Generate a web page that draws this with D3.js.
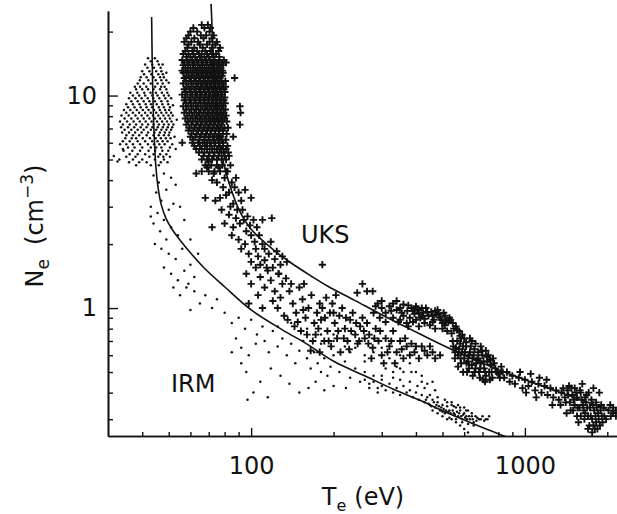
<!DOCTYPE html>
<html>
<head>
<meta charset="utf-8">
<script src="https://cdn.jsdelivr.net/npm/d3@7"></script>
<style>
  body { margin: 0; background: #fff; }
  text { font-family: "DejaVu Sans", sans-serif; fill: #111; }
</style>
</head>
<body>
<script>
const width = 617;
const height = 514;

// axis ticks
const x_major = [100, 1000];
const x_minor = [40, 50, 60, 70, 80, 90, 200, 300, 400, 500, 600, 700, 800, 900, 2000];
const y_major = [1, 10];
const y_minor = [0.3, 0.4, 0.5, 0.6, 0.7, 0.8, 0.9, 2, 3, 4, 5, 6, 7, 8, 9, 20];

// fitted curves: [Te, Ne]
const irm_curve = [[43.3, 23.4], [43.5, 15], [43.8, 9.5], [44.3, 6.2], [44.9, 4.6], [45.7, 3.7], [47, 3.05],
  [49, 2.62], [52, 2.3], [55.3, 2.07], [60, 1.82], [67.5, 1.54], [80, 1.26], [100, 0.98], [130, 0.79],
  [160, 0.677], [201, 0.56], [260, 0.48], [331, 0.415], [420, 0.365], [510, 0.325], [650, 0.285],
  [838, 0.25], [880, 0.243]];
const uks_curve = [[71.4, 27], [72.5, 17], [74, 10.5], [75.5, 7.5], [77.1, 5.73], [80, 4.6], [84, 3.7],
  [90.9, 2.85], [100, 2.35], [122.5, 1.85], [140, 1.63], [165, 1.42], [190, 1.27], [238, 1.09], [300, 0.93],
  [378, 0.8], [450, 0.715], [545, 0.635], [758, 0.528], [1000, 0.46], [1245, 0.415], [1600, 0.37], [2200, 0.318]];

// UKS dense core, rows of [Ne, [Te ...]]
const uks_core_rows = [
  [21.5, [66, 69.5]],
  [20.8, [61.5, 67.5, 71]],
  [20, [60, 63.5, 70.5]],
  [19.2, [59, 65.5, 68.5, 73]],
  [18.6, [58, 62, 67, 72]],
  [17.9, [57, 60.5, 64, 70.5, 75]],
  [17.4, [59, 65, 69, 74]],
  [16.8, [58.5, 62, 66.5, 72, 77]],
  [16.2, [57.5, 61, 63.5, 68, 71, 76]],
  [15.7, [56.5, 59, 61.5, 64.5, 66, 69, 72, 74.5]],
  [15.2, [58, 60, 62.5, 65, 67.5, 70, 73, 76.5]],
  [14.7, [56, 58.5, 61, 63.5, 66, 68.5, 71, 73.5, 76.5, 79.5]],
  [14.3, [57, 59.5, 62, 64, 66.5, 69, 72, 75, 78, 81]],
  [13.9, [56.5, 58.7, 61.3, 63.8, 66.2, 68.7, 71.2, 73.6, 76.3, 79]],
  [13.5, [57.5, 60, 62.5, 65, 67.5, 70, 72.5, 75, 77.5]],
  [13.1, [56, 58.4, 61, 63.4, 66, 68.4, 71, 73.4, 76, 78.6]],
  [12.8, [56.5, 59, 61.5, 64, 66.5, 69, 71.5, 74, 76.5, 79]],
  [12.4, [58, 60.6, 63.1, 65.7, 68.2, 70.7, 73.2, 75.8, 78.3]],
  [12.1, [57, 59.5, 62, 64.5, 67, 69.5, 72, 74.5, 77, 87]],
  [11.7, [57.8, 60.3, 62.8, 65.3, 67.9, 70.4, 72.9, 75.4, 77.9, 80.5]],
  [11.4, [56.5, 59, 61.5, 64, 66.5, 69, 71.5, 74, 76.5, 79]],
  [11.0, [58, 60.5, 63, 65.6, 68.1, 70.6, 73.1, 75.6, 78.1, 80.6]],
  [10.7, [57, 59.5, 62, 64.5, 67, 69.5, 72, 74.5, 77, 79.5]],
  [10.4, [57.6, 60.1, 62.7, 65.2, 67.7, 70.2, 72.7, 75.2, 77.7, 80.2]],
  [10.1, [56, 58.5, 61, 63.5, 66, 68.5, 71, 73.5, 76, 78.5]],
  [9.8, [57.4, 60, 62.5, 65, 67.6, 70.1, 72.6, 75.1, 77.6, 80.1]],
  [9.5, [57, 59.5, 62, 64.5, 67, 69.5, 72, 74.5, 77, 79.5]],
  [9.2, [57.8, 60.3, 62.8, 65.3, 67.8, 70.3, 72.8, 75.3, 77.8, 80.4]],
  [8.9, [56.5, 59, 61.5, 64, 66.5, 69, 71.5, 74, 76.5, 79, 91]],
  [8.6, [57.9, 60.4, 62.9, 65.4, 67.9, 70.4, 72.9, 75.4, 77.9, 80.5]],
  [8.3, [57, 59.5, 62, 64.5, 67, 69.5, 72, 74.5, 77, 79.5, 91.5]],
  [8.05, [58.4, 60.9, 63.4, 65.9, 68.4, 70.9, 73.4, 75.9, 78.4, 81]],
  [7.8, [57.5, 60, 62.5, 65, 67.5, 70, 72.5, 75, 77.5, 80]],
  [7.55, [58.8, 61.2, 63.8, 66.3, 68.8, 71.3, 73.8, 76.3, 78.8, 81.5]],
  [7.3, [58, 60.5, 63, 65.5, 68, 70.5, 73, 75.5, 78, 91]],
  [7.05, [59.4, 62, 64.6, 67.1, 69.6, 72.2, 74.7, 77.2, 79.8, 82.3]],
  [6.85, [59, 61.5, 64, 66.5, 69, 71.5, 74, 76.5, 79]],
  [6.6, [60.5, 63.2, 65.8, 68.4, 71, 73.6, 76.2, 78.8, 81.4]],
  [6.4, [60, 62.5, 65, 67.5, 70, 72.5, 75, 77.5, 86]],
  [6.2, [61.3, 64.6, 67.6, 70.3, 73.1, 75.8, 78.2, 80.8]],
  [6.0, [56, 61, 64, 66.5, 69, 71.5, 74, 76.5, 79]],
  [5.8, [62, 65, 67.8, 70.6, 73.4, 76.2, 79, 82]],
  [5.6, [63, 66, 69, 72, 75, 78, 81]],
  [5.4, [64.5, 67.5, 70.5, 73.5, 76.5, 79.5, 82.5]],
  [5.2, [67, 70, 73, 76, 80, 83]],
  [5.0, [66, 69, 72, 75, 78, 81]],
  [4.7, [68, 71.5, 75, 78.5, 84]],
  [4.4, [70, 73.5, 77, 81]]
];

// UKS descending trail
const uks_trail = [[70, 4.9], [76, 4.6], [82, 4.4], [88, 4.1], [66, 4.4], [63, 4.3], [72, 4.0], [79, 3.7],
  [85, 3.9], [95, 3.6], [68, 3.3], [74, 3.2], [81, 3.4], [86, 3.1], [90, 3.5], [100, 3.3], [78, 2.9],
  [83, 2.75], [88, 2.65], [93, 2.9], [80, 2.5], [86, 2.4], [91, 2.5], [96, 2.3], [85, 2.2], [90, 2.1],
  [95, 2.0], [100, 2.2], [105, 2.4], [110, 2.6], [119, 2.65], [92, 1.9], [98, 1.8], [104, 1.9], [110, 2.0],
  [116, 1.8], [100, 1.65], [108, 1.6], [114, 1.55], [122, 1.7], [128, 1.6], [72, 2.4], [77, 3.3], [182, 1.6],
  [69, 4.6], [73, 4.3], [75, 3.9], [80, 4.1], [83, 3.5], [87, 3.7], [92, 3.2], [97, 2.7], [102, 2.6],
  [84, 3.0], [89, 2.9], [94, 2.6], [99, 2.45], [103, 2.05], [107, 2.2], [112, 1.9], [118, 2.05], [124, 1.85],
  [130, 1.75], [135, 1.65], [106, 1.75], [112, 1.68], [120, 1.55], [126, 1.45]];

// UKS middle scatter
const uks_mid = [[96, 1.45], [100, 1.3], [104, 1.55], [108, 1.4], [112, 1.25], [106, 1.15], [115, 1.5],
  [118, 1.35], [122, 1.2], [126, 1.45], [130, 1.3], [98, 1.05], [110, 1.0], [120, 1.08], [128, 1.12],
  [134, 1.38], [138, 1.2], [142, 1.05], [146, 0.95], [150, 1.25], [154, 1.1], [158, 0.9], [162, 1.0],
  [166, 1.15], [170, 0.85], [174, 0.95], [178, 1.05], [136, 0.88], [144, 0.82], [152, 0.78], [160, 0.75],
  [168, 0.7], [176, 0.8], [140, 1.3], [156, 1.3], [182, 1.0], [186, 0.9], [190, 0.78], [194, 0.95],
  [198, 1.05], [202, 0.85], [206, 0.72], [210, 0.92], [215, 1.0], [220, 0.8], [225, 0.7], [230, 0.88],
  [235, 0.95], [240, 0.75], [245, 0.68], [250, 0.82], [255, 0.9], [185, 0.7], [196, 0.66], [212, 0.62],
  [228, 0.64], [260, 0.72], [188, 1.12], [204, 1.15], [178, 0.62], [165, 0.63], [265, 0.85], [270, 0.75],
  [278, 0.65], [285, 0.8], [292, 0.7], [300, 0.6], [310, 0.72], [320, 0.66], [330, 0.78], [340, 0.62],
  [350, 0.7], [360, 0.58], [370, 0.66], [380, 0.6], [395, 0.62], [410, 0.58], [275, 0.58], [305, 0.55],
  [335, 0.55], [420, 0.66], [440, 0.6], [460, 0.62], [345, 0.86], [375, 0.82], [125, 1.0], [132, 0.92],
  [148, 0.86], [155, 0.98], [172, 0.75], [180, 0.88], [192, 0.7], [200, 0.95], [208, 0.78], [218, 0.72],
  [222, 0.9], [232, 0.78], [242, 0.85], [248, 0.7], [258, 0.78], [268, 0.68], [282, 0.72], [296, 0.78],
  [315, 0.62], [325, 0.7], [355, 0.64], [365, 0.72], [385, 0.68], [400, 0.66], [430, 0.63], [450, 0.66],
  [470, 0.58], [490, 0.6]];

// UKS hump near 300-600 eV
const uks_hump = [[255, 1.3], [244, 1.18], [265, 1.2], [278, 1.2], [290, 1.05], [300, 1.0], [310, 0.95],
  [320, 1.02], [330, 1.05], [340, 0.98], [350, 1.0], [360, 1.04], [372, 0.97], [385, 1.0], [395, 0.94],
  [405, 0.98], [415, 0.9], [425, 0.95], [435, 1.0], [445, 0.92], [455, 0.96], [465, 0.88], [475, 0.93],
  [490, 0.9], [505, 0.95], [515, 0.87], [530, 0.9], [545, 0.85], [560, 0.82], [575, 0.78], [590, 0.75],
  [310, 0.86], [330, 0.9], [350, 0.88], [370, 0.85], [390, 0.86], [410, 0.82], [430, 0.85], [450, 0.83],
  [470, 0.8], [500, 0.8], [520, 0.78], [540, 0.76], [280, 0.95], [295, 0.9], [360, 0.92], [400, 0.88],
  [480, 0.98], [500, 0.85], [420, 1.0], [375, 1.03], [390, 0.97], [400, 1.02], [410, 0.95], [420, 0.92],
  [440, 0.96], [460, 0.92], [470, 0.97], [485, 0.94], [495, 0.88], [510, 0.92], [525, 0.86], [535, 0.88],
  [550, 0.8], [565, 0.79], [585, 0.72], [380, 0.9], [430, 0.89], [460, 0.86], [510, 0.83], [340, 1.08],
  [355, 0.95], [325, 0.97], [300, 1.08], [285, 1.02]];

// UKS high temperature tail
const uks_tail = [[545, 0.7], [560, 0.65], [570, 0.6], [580, 0.68], [590, 0.62], [600, 0.58], [610, 0.66],
  [620, 0.56], [630, 0.62], [640, 0.54], [650, 0.6], [660, 0.52], [670, 0.57], [680, 0.5], [690, 0.55],
  [700, 0.6], [710, 0.52], [720, 0.48], [730, 0.56], [740, 0.5], [750, 0.54], [760, 0.47], [780, 0.52],
  [800, 0.49], [820, 0.53], [840, 0.47], [860, 0.5], [880, 0.45], [900, 0.48], [555, 0.58], [585, 0.55],
  [615, 0.5], [645, 0.48], [675, 0.62], [705, 0.46], [735, 0.6], [765, 0.58], [600, 0.72], [640, 0.7],
  [690, 0.66], [660, 0.68], [720, 0.63], [920, 0.44], [950, 0.47], [980, 0.42], [1000, 0.46], [1030, 0.43],
  [1060, 0.45], [1090, 0.41], [1120, 0.44], [1150, 0.4], [1180, 0.43], [1210, 0.39], [1240, 0.42],
  [1270, 0.38], [1300, 0.41], [1330, 0.37], [1360, 0.4], [960, 0.5], [1050, 0.49], [1130, 0.47],
  [1200, 0.46], [1010, 0.4], [1100, 0.38], [1260, 0.35], [1400, 0.38], [1430, 0.41], [1460, 0.36],
  [1490, 0.39], [1520, 0.35], [1550, 0.38], [1580, 0.34], [1610, 0.37], [1640, 0.33], [1670, 0.36],
  [1700, 0.31], [1730, 0.34], [1760, 0.3], [1790, 0.33], [1820, 0.29], [1850, 0.32], [1880, 0.28],
  [1910, 0.31], [1940, 0.34], [1980, 0.3], [2020, 0.33], [2060, 0.31], [2100, 0.32], [2150, 0.31],
  [1450, 0.43], [1520, 0.42], [1600, 0.4], [1680, 0.39], [1750, 0.37], [1820, 0.36], [1900, 0.35],
  [1550, 0.31], [1650, 0.3], [1720, 0.28], [1800, 0.27], [1500, 0.33], [1620, 0.44], [1780, 0.42], [1870, 0.4],
  [548, 0.66], [556, 0.62], [566, 0.7], [574, 0.64], [582, 0.58], [594, 0.66], [604, 0.62], [612, 0.55],
  [624, 0.6], [634, 0.66], [644, 0.58], [654, 0.64], [664, 0.55], [676, 0.58], [686, 0.52], [696, 0.63],
  [706, 0.56], [716, 0.5], [726, 0.59], [746, 0.57], [756, 0.5], [772, 0.55], [790, 0.5], [810, 0.47],
  [830, 0.5], [570, 0.53], [595, 0.5], [625, 0.52], [655, 0.5], [685, 0.47], [715, 0.45], [745, 0.46],
  [610, 0.69], [630, 0.72], [580, 0.74], [1380, 0.42], [1410, 0.36], [1440, 0.39], [1470, 0.33],
  [1480, 0.42], [1510, 0.37], [1540, 0.4], [1560, 0.34], [1590, 0.41], [1600, 0.31], [1630, 0.35],
  [1660, 0.38], [1660, 0.32], [1690, 0.34], [1710, 0.4], [1740, 0.31], [1770, 0.35], [1780, 0.28],
  [1810, 0.31], [1830, 0.34], [1860, 0.3], [1890, 0.33], [1920, 0.29], [1950, 0.31], [1700, 0.27],
  [1760, 0.26], [1840, 0.27], [1570, 0.29], [1420, 0.32], [1350, 0.35], [2100, 0.34], [2150, 0.33],
  [2050, 0.35]];

// IRM dense cluster, rows of [Ne, [Te ...]]
const irm_core_rows = [
  [15, [42, 44.5]],
  [14.5, [43, 45.5]],
  [14, [41, 43.5, 46, 47.5]],
  [13.5, [41.8, 44.2, 46.7]],
  [13, [40, 42.5, 45, 47]],
  [12.6, [40.6, 43.2, 45.8, 47.6]],
  [12.2, [39.5, 41.5, 44, 46.5, 48]],
  [11.8, [39.2, 42.1, 44.8, 47, 49]],
  [11.4, [38.5, 40.5, 43, 45.5, 47.5]],
  [11.0, [37.6, 39.3, 41.4, 44.6, 46.9, 48.3]],
  [10.7, [38, 40, 42, 44, 46.5, 49]],
  [10.3, [36.2, 38.4, 40.7, 42.9, 44.9, 47.2, 49.4]],
  [10, [37, 39, 41, 43.5, 45.5, 48, 50]],
  [9.7, [35.8, 37.8, 39.8, 41.9, 43.9, 46.2, 48.6, 51]],
  [9.4, [36.5, 38.5, 40.5, 42.5, 44.5, 47, 49.5]],
  [9.1, [35, 37, 39.1, 41.2, 43.1, 45.2, 47.4, 49.8]],
  [8.8, [35.5, 37.5, 39.5, 41.5, 43.5, 46, 48, 50.5]],
  [8.55, [34.3, 36.2, 38.2, 40.2, 42.2, 44.2, 46.4, 48.5, 50.2]],
  [8.3, [35, 37, 39, 41, 43, 45, 47, 49, 51]],
  [8.05, [33.6, 35.7, 37.8, 39.8, 41.8, 43.8, 45.8, 47.8, 49.9, 51.7]],
  [7.8, [34.5, 36.5, 38.5, 40.5, 42.5, 44.5, 46.5, 48.5, 50.5]],
  [7.55, [33.2, 35.2, 37.2, 39.2, 41.2, 43.3, 45.3, 47.3, 49.3, 51.2]],
  [7.3, [34, 36, 38, 40, 42, 44, 46, 48, 50, 52]],
  [7.1, [33.5, 35.5, 37.4, 39.5, 41.5, 43.6, 45.6, 47.6, 49.6, 51.5]],
  [6.9, [34.5, 36.5, 38.5, 40.5, 43, 45, 47, 49, 51]],
  [6.7, [33.8, 35.8, 37.7, 39.8, 42, 44.3, 46.4, 48.4, 50.3]],
  [6.5, [35, 37, 39, 41.5, 44, 46, 48, 50]],
  [6.3, [34.7, 36.6, 38, 40.2, 42.7, 44.8, 46.8, 48.8, 50.8]],
  [6.1, [34, 36, 38.5, 41, 43.5, 45.5, 47.5, 49.5]],
  [5.9, [33.2, 35, 37, 39.3, 42, 44.2, 46.2, 48.3, 51.5]],
  [5.7, [35.5, 37.5, 40, 43, 45, 47, 50.5]],
  [5.5, [34.2, 36.8, 39.3, 42.2, 44.6, 47.4, 49.8]],
  [5.3, [36, 38.5, 41, 44, 46.5, 49]],
  [5.15, [35, 37.8, 42.5, 45.8, 47.8, 50.5]],
  [5.0, [33, 37, 40, 44.5, 48]],
  [4.85, [35.8, 39, 41.5, 46.8, 49.5]],
  [4.7, [38, 43, 46]]
];

const irm_loose = [[31.5, 5.2], [32.5, 4.9], [34, 5.6], [52.5, 6.4], [53.5, 7.7], [51.8, 9.0], [50, 11.5],
  [49, 12.8], [53, 5.6], [44, 4.2], [46, 3.9], [48, 4.3], [51, 4.1], [53, 3.8], [45, 3.5], [47, 3.2],
  [49, 3.6], [43, 3.0], [45.5, 2.8], [48, 2.6], [50, 2.9], [52, 3.1], [44, 2.5], [46.5, 2.3], [49, 2.1],
  [51, 2.4], [54, 2.2], [47, 1.9], [50, 1.8], [53, 1.7], [56, 1.9], [48, 1.55], [51, 1.45], [54, 1.35],
  [57, 1.5], [52, 1.25], [55, 1.15], [58, 1.25], [44.5, 2.0], [43, 2.7], [60, 1.6], [62, 1.4], [64, 1.8],
  [60, 2.1], [57, 2.6], [55, 3.0], [59, 1.3], [62, 1.2], [65, 1.05], [68, 1.15], [72, 1.0], [75, 1.1], [60, 0.98]];

const irm_mid = [[80, 0.95], [85, 0.85], [90, 0.9], [95, 0.8], [100, 0.88], [105, 0.75], [110, 0.82],
  [88, 0.72], [92, 0.65], [98, 0.6], [104, 0.68], [112, 0.7], [116, 0.62], [120, 0.78], [125, 0.66],
  [130, 0.72], [135, 0.6], [140, 0.68], [145, 0.55], [150, 0.63], [155, 0.7], [160, 0.58], [165, 0.52],
  [170, 0.62], [175, 0.55], [180, 0.5], [185, 0.58], [190, 0.48], [195, 0.53], [200, 0.6], [210, 0.5],
  [220, 0.56], [230, 0.47], [240, 0.52], [250, 0.45], [260, 0.5], [270, 0.44], [280, 0.48], [290, 0.42],
  [300, 0.46], [96, 0.5], [108, 0.45], [118, 0.52], [128, 0.48], [138, 0.44], [150, 0.4], [162, 0.42],
  [172, 0.45], [185, 0.41], [102, 0.4], [115, 0.38], [200, 0.43], [125, 0.82], [140, 0.85], [160, 0.8],
  [180, 0.75], [200, 0.7], [220, 0.66], [240, 0.65], [260, 0.6], [280, 0.62], [85, 0.62], [92, 0.55],
  [310, 0.52], [330, 0.5], [97, 0.37], [222, 0.42], [200, 0.75], [250, 0.7], [300, 0.65], [350, 0.6],
  [280, 0.72], [320, 0.58], [380, 0.55], [400, 0.5], [420, 0.48], [230, 0.62], [260, 0.56], [180, 0.68],
  [340, 0.53], [360, 0.5], [440, 0.44], [460, 0.45]];

const irm_tail = [[260, 0.46], [270, 0.42], [280, 0.45], [290, 0.4], [300, 0.43], [310, 0.41], [320, 0.44],
  [330, 0.4], [340, 0.42], [350, 0.39], [360, 0.43], [370, 0.4], [380, 0.41], [390, 0.38], [400, 0.4],
  [410, 0.37], [420, 0.39], [430, 0.36], [440, 0.38], [450, 0.35], [460, 0.37], [470, 0.34], [480, 0.36],
  [490, 0.33], [500, 0.35], [510, 0.32], [520, 0.345], [530, 0.33], [540, 0.35], [550, 0.32], [560, 0.34],
  [570, 0.31], [580, 0.33], [590, 0.3], [600, 0.32], [610, 0.31], [620, 0.33], [630, 0.3], [640, 0.32],
  [650, 0.29], [660, 0.31], [680, 0.3], [700, 0.31], [720, 0.3], [740, 0.31], [460, 0.33], [480, 0.32],
  [500, 0.31], [520, 0.3], [540, 0.3], [560, 0.29], [580, 0.28], [600, 0.27], [620, 0.26], [450, 0.39],
  [480, 0.38], [510, 0.37], [540, 0.36], [570, 0.35], [600, 0.34], [300, 0.48], [330, 0.47], [350, 0.46],
  [380, 0.45], [405, 0.43], [430, 0.42], [420, 0.45], [385, 0.5], [350, 0.52], [470, 0.41], [435, 0.37],
  [445, 0.355], [455, 0.345], [465, 0.36], [475, 0.35], [485, 0.345], [495, 0.34], [505, 0.335],
  [515, 0.33], [525, 0.325], [535, 0.32], [545, 0.33], [555, 0.315], [565, 0.325], [575, 0.32],
  [585, 0.31], [595, 0.315], [605, 0.305], [615, 0.3], [625, 0.31], [645, 0.3], [665, 0.295], [690, 0.3],
  [710, 0.295], [730, 0.3], [520, 0.36], [550, 0.345], [580, 0.34], [610, 0.33], [640, 0.31], [670, 0.305],
  [500, 0.325], [530, 0.305], [560, 0.3], [590, 0.29], [620, 0.285], [650, 0.28]];

const rows_to_points = rows => rows.flatMap(([n, ts]) => ts.map(t => [t, n]));
const uks_points = rows_to_points(uks_core_rows).concat(uks_trail, uks_mid, uks_hump, uks_tail);
const irm_points = rows_to_points(irm_core_rows).concat(irm_loose, irm_mid, irm_tail);

const svg = d3.select('body')
    .append('svg')
    .attr('width', width)
    .attr('height', height);

const x_scale = d3.scaleLog().domain([30, 2170]).range([108, 617]);
const y_scale = d3.scaleLog().domain([0.25, 25]).range([436, 11]);

svg.append('defs').append('clipPath').attr('id', 'plot')
    .append('rect').attr('x', 108).attr('y', 0).attr('width', width - 108).attr('height', 436);

const plot = svg.append('g').attr('clip-path', 'url(#plot)');

// IRM: dots
plot.append('g').selectAll('circle')
    .data(irm_points)
    .enter().append('circle')
    .attr('cx', d => x_scale(d[0]))
    .attr('cy', d => y_scale(d[1]))
    .attr('r', 1.25)
    .attr('fill', '#111');

// UKS: plus signs
plot.append('g').selectAll('path')
    .data(uks_points)
    .enter().append('path')
    .attr('transform', d => `translate(${x_scale(d[0])},${y_scale(d[1])})`)
    .attr('d', 'M-3.6,0H3.6M0,-3.6V3.6')
    .attr('stroke', '#111')
    .attr('stroke-width', 1.9);

const line = d3.line()
    .x(d => x_scale(d[0]))
    .y(d => y_scale(d[1]))
    .curve(d3.curveCatmullRom);

[irm_curve, uks_curve].forEach(c => {
    plot.append('path')
        .attr('d', line(c))
        .attr('fill', 'none')
        .attr('stroke', '#111')
        .attr('stroke-width', 1.6);
});

// axes, ticks point inward
svg.append('g').attr('transform', 'translate(108,0)')
    .call(d3.axisLeft(y_scale).tickValues(y_minor).tickSize(-5).tickSizeOuter(0).tickFormat(''));
svg.append('g').attr('transform', 'translate(108,0)')
    .call(d3.axisLeft(y_scale).tickValues(y_major).tickSize(-10).tickSizeOuter(0).tickPadding(11).tickFormat(d3.format('d')));
svg.append('g').attr('transform', 'translate(0,436)')
    .call(d3.axisBottom(x_scale).tickValues(x_minor).tickSize(-4).tickSizeOuter(0).tickFormat(''));
svg.append('g').attr('transform', 'translate(0,436)')
    .call(d3.axisBottom(x_scale).tickValues(x_major).tickSize(-8).tickSizeOuter(0).tickPadding(21).tickFormat(d3.format('d')));

svg.selectAll('.domain').attr('stroke', '#111').attr('stroke-width', 1.6);
svg.selectAll('.tick line').attr('stroke', '#111').attr('stroke-width', 1.4);
svg.selectAll('.tick text')
    .attr('font-family', '"DejaVu Sans", sans-serif')
    .attr('font-size', 24)
    .attr('fill', '#111');

// series labels
svg.append('text').attr('x', 301).attr('y', 243).attr('font-size', 24).text('UKS');
svg.append('text').attr('x', 171).attr('y', 392).attr('font-size', 24).text('IRM');

// axis titles (the reference crops the bottom one at the image edge)
const x_title = svg.append('text')
    .attr('x', 363).attr('y', 505)
    .attr('text-anchor', 'middle')
    .attr('font-size', 24);
x_title.append('tspan').text('T');
x_title.append('tspan').attr('dy', 6).attr('font-size', 16).text('e');
x_title.append('tspan').attr('dy', -6).attr('dx', 8).text('(eV)');

const y_title = svg.append('text')
    .attr('transform', 'translate(43,226) rotate(-90)')
    .attr('text-anchor', 'middle')
    .attr('font-size', 24);
y_title.append('tspan').text('N');
y_title.append('tspan').attr('dy', 6).attr('font-size', 17).text('e');
y_title.append('tspan').attr('dy', -6).attr('dx', 14).text('(cm');
y_title.append('tspan').attr('dy', -10).attr('font-size', 17).text('−3');
y_title.append('tspan').attr('dy', 10).text(')');
</script>
</body>
</html>
